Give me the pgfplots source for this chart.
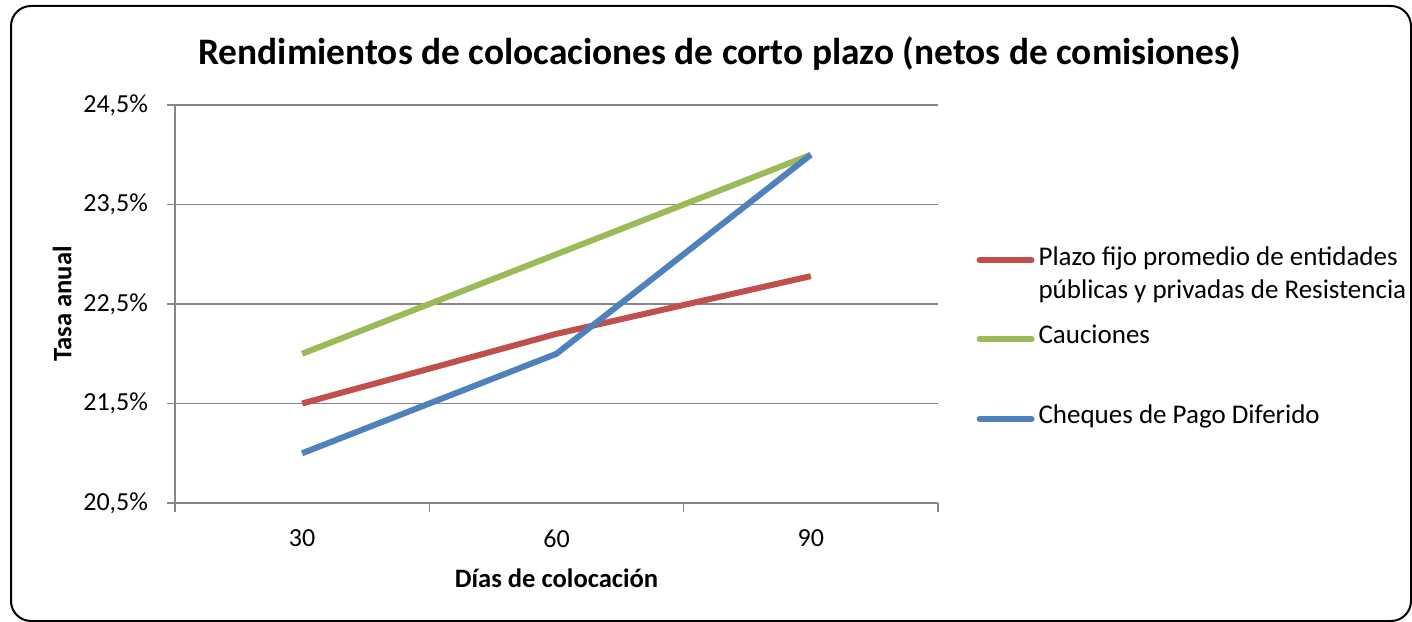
\documentclass[border=0pt]{standalone}
\usepackage{fontspec}
\setmainfont{Carlito}
\usepackage{pgfplots}
\pgfplotsset{compat=1.18}
\definecolor{cred}{RGB}{192,80,77}
\definecolor{cgreen}{RGB}{155,187,89}
\definecolor{cblue}{RGB}{79,129,189}
\definecolor{cgrid}{RGB}{134,134,134}
\begin{document}
\begin{tikzpicture}
\path[use as bounding box] (0,0) rectangle (706bp,311bp);
\fill[white] (0,0) rectangle (706bp,311bp);
\draw[line width=1bp, rounded corners=10bp] (5.5bp,0.5bp) rectangle (705.5bp,308bp);
\begin{axis}[
  at={(87.5bp,59.5bp)}, anchor=south west,
  scale only axis, width=381.5bp, height=199bp,
  xmin=-0.5, xmax=2.5, ymin=20.5, ymax=24.5,
  axis x line=bottom, axis y line=left,
  axis line style={-, cgrid, line width=0.75bp},
  xtick={0,1,2}, xticklabels={30,60,90},
  major x tick style={draw=none},
  minor xtick={-0.5,0.5,1.5,2.5},
  minor x tick style={cgrid, line width=0.75bp},
  minor tick length=4.5bp,
  ytick={20.5,21.5,22.5,23.5,24.5},
  major y tick style={cgrid, line width=0.75bp},
  major tick length=4bp,
  tick align=outside,
  ymajorgrids, grid style={cgrid, line width=0.75bp},
  /pgf/number format/assume math mode=true,
  yticklabel={\pgfmathprintnumber[fixed,fixed zerofill,precision=1,use comma]{\tick}\%},
  ticklabel style={font=\fontsize{13bp}{15bp}\selectfont, text=black},
  y tick label style={xshift=-6bp},
  x tick label style={yshift=-6bp},
  title={Rendimientos de colocaciones de corto plazo (netos de comisiones)},
  title style={font=\bfseries\fontsize{18.7bp}{22bp}\selectfont, at={(axis description cs:0.714,1.10)}, anchor=center},
  xlabel={Días de colocación},
  xlabel style={font=\bfseries\fontsize{13.3bp}{15bp}\selectfont, at={(axis description cs:0.5,-0.188)}, anchor=center},
  ylabel={Tasa anual},
  ylabel style={font=\bfseries\fontsize{13.3bp}{15bp}\selectfont, at={(axis description cs:-0.148,0.5)}, anchor=center, rotate=0},
  legend style={draw=none, fill=none, at={(axis description cs:1.05,0.655)}, anchor=north west,
    font=\fontsize{13.5bp}{16.5bp}\selectfont, inner sep=0pt, row sep=11.5bp,
    cells={anchor=base west, inner sep=0pt}, column sep=0bp},
  legend image code/.code={\draw[#1, line cap=round] (0bp,0.25em) -- (26bp,0.25em);},
  every axis plot/.append style={line width=3bp},
  clip=false,
]
\addplot[cred] coordinates {(0,21.5) (1,22.2) (2,22.78)};
\addlegendentry{\vtop{\hbox{Plazo fijo promedio de entidades}\hbox{públicas y privadas de Resistencia}}}
\addplot[cgreen] coordinates {(0,22.0) (1,23.0) (2,24.0)};
\addlegendentry{\rule{0pt}{22.3bp}Cauciones}
\addplot[cblue] coordinates {(0,21.0) (1,22.0) (2,24.0)};
\addlegendentry{\rule{0pt}{23bp}Cheques de Pago Diferido}
\end{axis}
\end{tikzpicture}
\end{document}
